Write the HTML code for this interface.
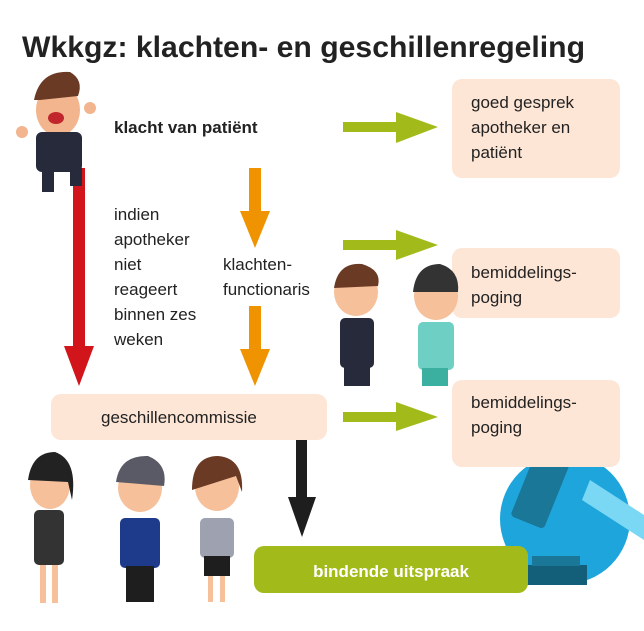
<!DOCTYPE html>
<html><head><meta charset="utf-8"><style>
html,body{margin:0;padding:0;background:#fff;width:644px;height:631px;overflow:hidden}
svg{display:block}
text{font-family:"Liberation Sans",sans-serif;fill:#222}
</style></head><body>
<svg width="644" height="631" viewBox="0 0 644 631" xmlns="http://www.w3.org/2000/svg">
<text x="22" y="57" font-size="30" font-weight="bold" fill="#1e1e1e" textLength="563" lengthAdjust="spacingAndGlyphs">Wkkgz: klachten- en geschillenregeling</text>

<!-- gavel (behind boxes) -->
<circle cx="565" cy="519" r="65" fill="#1ea5dc"/>
<polygon points="590,480 644,515 644,540 582,500" fill="#7ad8f4"/>
<rect x="522" y="455" width="36" height="70" rx="4" fill="#1a7797" transform="rotate(22 540 490)"/>
<rect x="525" y="565" width="62" height="20" fill="#135e78"/>
<rect x="532" y="556" width="48" height="10" fill="#1a7797"/>

<!-- boxes -->
<rect x="452" y="79" width="168" height="99" rx="10" fill="#fde6d6"/>
<rect x="452" y="248" width="168" height="70" rx="10" fill="#fde6d6"/>
<rect x="452" y="380" width="168" height="87" rx="10" fill="#fde6d6"/>
<rect x="51" y="394" width="276" height="46" rx="10" fill="#fde6d6"/>
<rect x="254" y="546" width="274" height="47" rx="10" fill="#a3bb1a"/>

<!-- arrows -->
<rect x="73" y="168" width="12" height="178" fill="#d2141b"/>
<polygon points="64,346 94,346 79,386" fill="#d2141b"/>
<rect x="249" y="168" width="12" height="43" fill="#ef9400"/>
<polygon points="240,211 270,211 255,248" fill="#ef9400"/>
<rect x="249" y="306" width="12" height="43" fill="#ef9400"/>
<polygon points="240,349 270,349 255,386" fill="#ef9400"/>
<rect x="296" y="440" width="11" height="58" fill="#1e1e1e"/>
<polygon points="288,497 316,497 302,537" fill="#1e1e1e"/>
<g fill="#a3bb1a">
<rect x="343" y="122" width="55" height="10"/><polygon points="396,112 438,127 396,143"/>
<rect x="343" y="240" width="55" height="10"/><polygon points="396,230 438,245 396,260"/>
<rect x="343" y="412" width="55" height="10"/><polygon points="396,402 438,417 396,431"/>
</g>

<!-- text -->
<text x="114" y="133" font-size="17" font-weight="bold">klacht van patiënt</text>
<g font-size="17">
<text x="114" y="220">indien</text>
<text x="114" y="245">apotheker</text>
<text x="114" y="270">niet</text>
<text x="114" y="295">reageert</text>
<text x="114" y="320">binnen zes</text>
<text x="114" y="345">weken</text>
<text x="223" y="270">klachten-</text>
<text x="223" y="295">functionaris</text>
<text x="471" y="108">goed gesprek</text>
<text x="471" y="133">apotheker en</text>
<text x="471" y="158">patiënt</text>
<text x="471" y="278">bemiddelings-</text>
<text x="471" y="303">poging</text>
<text x="471" y="408">bemiddelings-</text>
<text x="471" y="433">poging</text>
<text x="101" y="423">geschillencommissie</text>
</g>
<text x="391" y="577" font-size="17" font-weight="bold" text-anchor="middle" style="fill:#fff">bindende uitspraak</text>

<!-- angry man -->
<ellipse cx="58" cy="110" rx="22" ry="26" fill="#f2b58e"/>
<path d="M34,100 Q40,70 70,72 Q84,80 78,96 L40,100Z" fill="#6b3a25"/>
<ellipse cx="56" cy="118" rx="8" ry="6" fill="#c0262b"/>
<rect x="36" y="132" width="46" height="40" rx="6" fill="#262a3a"/>
<rect x="42" y="170" width="12" height="22" fill="#262a3a"/>
<rect x="70" y="168" width="12" height="18" fill="#262a3a"/>
<circle cx="22" cy="132" r="6" fill="#f2b58e"/><circle cx="90" cy="108" r="6" fill="#f2b58e"/>

<!-- two men middle -->
<ellipse cx="356" cy="292" rx="22" ry="24" fill="#f5c09a"/>
<path d="M334,288 Q338,262 362,264 Q382,270 378,286Z" fill="#6b3a25"/>
<rect x="340" y="318" width="34" height="50" rx="5" fill="#262a3a"/>
<rect x="344" y="366" width="26" height="20" fill="#262a3a"/>
<ellipse cx="436" cy="296" rx="22" ry="24" fill="#f5c09a"/>
<path d="M413,292 Q416,264 440,264 Q460,270 458,292Z" fill="#333"/>
<rect x="418" y="322" width="36" height="48" rx="5" fill="#6ed0c4"/>
<rect x="422" y="368" width="26" height="18" fill="#3bb0a0"/>

<!-- three people bottom -->
<ellipse cx="50" cy="485" rx="20" ry="24" fill="#f5c09a"/>
<path d="M28,480 Q32,452 55,452 Q78,460 72,500 L68,482Z" fill="#222"/>
<rect x="34" y="510" width="30" height="55" rx="5" fill="#333"/>
<rect x="40" y="565" width="6" height="38" fill="#f5c09a"/><rect x="52" y="565" width="6" height="38" fill="#f5c09a"/>
<ellipse cx="140" cy="488" rx="22" ry="24" fill="#f5c09a"/>
<path d="M116,482 Q120,455 148,456 Q168,464 164,486Z" fill="#5a5a66"/>
<rect x="120" y="518" width="40" height="50" rx="5" fill="#1e3a8a"/>
<rect x="126" y="566" width="28" height="36" fill="#1e1e1e"/>
<ellipse cx="217" cy="487" rx="22" ry="24" fill="#f5c09a"/>
<path d="M192,490 Q192,456 218,456 Q244,458 242,492 L236,476Z" fill="#6b3a25"/>
<rect x="200" y="518" width="34" height="40" rx="5" fill="#9ea2b0"/>
<rect x="204" y="556" width="26" height="20" fill="#1e1e1e"/>
<rect x="208" y="576" width="5" height="26" fill="#f5c09a"/><rect x="220" y="576" width="5" height="26" fill="#f5c09a"/>
</svg>
</body></html>
